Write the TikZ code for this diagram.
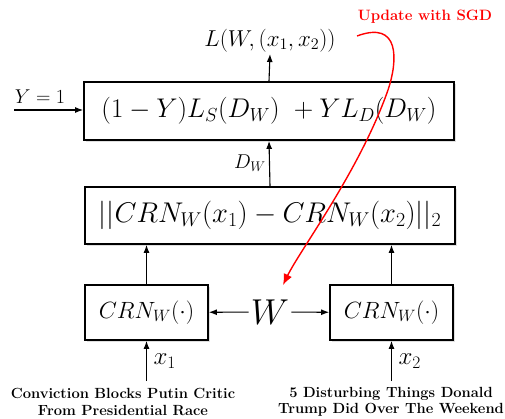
\RequirePackage{fix-cm}
\documentclass[tikz,border=0pt]{standalone}
\usepackage{fontspec}
\usetikzlibrary{arrows.meta,shadows,positioning}

\tikzset{
  block/.style={draw, line width=1.8pt, fill=white, inner sep=0pt,
    drop shadow={opacity=0.25, shadow xshift=1.5pt, shadow yshift=-1.5pt},
    font=\fontsize{26}{30}\selectfont},
  flow/.style={-{Latex[length=8pt,width=6pt]}, line width=1.1pt},
  headline/.style={font=\fontsize{14.7}{16.5}\selectfont\bfseries, align=center, inner sep=0pt},
}

\begin{document}
\begin{tikzpicture}[x=1pt,y=-1pt]
  \useasboundingbox (0,0) rectangle (505,418);
  \def\bw{370} % width of the wide blocks
  \def\sw{123} % width of the small blocks

  % Blocks
  \node[block, minimum width=\bw, minimum height=58, font=\fontsize{27}{30}\selectfont] (loss) at (269,111)
    {$(1-Y)L_S(D_W)\ +YL_D(D_W)$};
  \node[block, minimum width=\bw, minimum height=57, font=\fontsize{28.5}{32}\selectfont] (dist) at (270,215.5)
    {$||CRN_W(x_1)-CRN_W(x_2)||_2$};
  \node[block, minimum width=\sw, minimum height=55, font=\fontsize{23.5}{26}\selectfont] (crn1) at (146.5,312.5)
    {$CRN_W(\cdot)$};
  \node[block, minimum width=\sw, minimum height=55, font=\fontsize{23.5}{26}\selectfont] (crn2) at (391.5,312.5)
    {$CRN_W(\cdot)$};
  \node[font=\fontsize{36}{40}\selectfont, inner sep=2pt] (w) at (270,312) {$W$};

  % Output and label input
  \node[font=\fontsize{23}{26}\selectfont, anchor=south, inner sep=2pt] (out) at (270,54)
    {$L(W,(x_1,x_2))$};
  \coordinate (yin) at (14,110);
  \node[font=\fontsize{20}{24}\selectfont] (ylab) at (40,97) {$Y=1$};

  % Inputs
  \coordinate (in1) at (146.5,381);
  \coordinate (in2) at (391.5,381);
  \node[font=\fontsize{25}{28}\selectfont, anchor=west] (x1) at (150,361) {$x_1$};
  \node[font=\fontsize{25}{28}\selectfont, anchor=west] (x2) at (395,361) {$x_2$};
  \node[headline] (t1) at (123,402) {Conviction Blocks Putin Critic\\From Presidential Race};
  \node[headline] (t2) at (391,402) {5 Disturbing Things Donald\\Trump Did Over The Weekend};

  % Connectors
  \draw[flow] (yin) -- (yin -| loss.west);
  \draw[flow] (loss.north) -- (out.south);
  \draw[flow] (dist.north) -- node[left, font=\fontsize{20}{22}\selectfont] {$D_W$} (loss.south);
  \draw[flow] (crn1.north) -- (crn1.north |- dist.south);
  \draw[flow] (crn2.north) -- (crn2.north |- dist.south);
  \draw[flow] (in1) -- (crn1.south);
  \draw[flow] (in2) -- (crn2.south);
  \draw[flow] (w) -- (crn1);
  \draw[flow] (w) -- (crn2);

  % Gradient update
  \coordinate (sgd0) at (357,36);
  \coordinate (bend) at (388,90);
  \coordinate (sgd1) at (283,285);
  \node[text=red, font=\fontsize{15}{18}\selectfont\bfseries] (sgd) at (425,17) {Update with SGD};
  \draw[red, line width=1.4pt, -{Latex[length=11pt,width=9pt]}]
    (sgd0) .. controls (400,20) and (398,60) .. (bend)
    .. controls (360,170) and (300,250) .. (sgd1);
\end{tikzpicture}
\end{document}
